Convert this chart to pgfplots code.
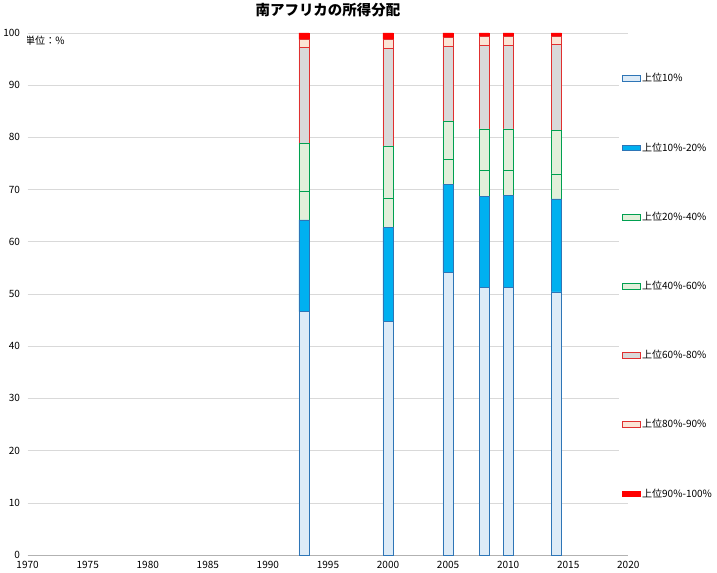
\documentclass[border=0pt]{standalone}
\usepackage{pgfplots}
\pgfplotsset{compat=1.18}
\usepackage{fontspec}
\setmainfont{Noto Sans CJK JP}
\definecolor{b1}{HTML}{DDEBF7}
\definecolor{b2}{HTML}{00B0F0}
\definecolor{be}{HTML}{2E75B6}
\definecolor{g1}{HTML}{E2EFDA}
\definecolor{ge}{HTML}{00A050}
\definecolor{r1}{HTML}{D9D9D9}
\definecolor{r2}{HTML}{FBE5D6}
\definecolor{re}{HTML}{E03030}
\begin{document}
\begin{tikzpicture}
\begin{axis}[
  scale only axis, width=598pt, height=520pt,
  ybar stacked, bar width=0.85,
  xmin=1970, xmax=2020, ymin=0, ymax=100,
  xtick={1970,1975,...,2020}, ytick={0,10,...,100},
  xticklabel style={/pgf/number format/1000 sep={}, yshift=-3pt},
  yticklabel style={xshift=-4pt},
  /pgf/number format/assume math mode=true,
  tick label style={font=\normalsize},
  major tick length=0pt,
  ymajorgrids, grid style={gray!30},
  axis x line=bottom, axis y line=left,
  y axis line style={draw=none}, x axis line style={-, gray!60},
  title={\bfseries 南アフリカの所得分配}, title style={font=\Large, yshift=6pt},
  legend style={at={(0.985,0.93)}, anchor=north west, draw=none, font=\normalsize, row sep=55pt},
  legend cell align=left, area legend,
]
\addplot[fill=b1, draw=be] coordinates {(1993,46.6)(2000,44.8)(2005,54.1)(2008,51.3)(2010,51.3)(2014,50.4)};
\addplot[fill=b2, draw=be] coordinates {(1993,17.6)(2000,17.9)(2005,16.9)(2008,17.4)(2010,17.6)(2014,17.8)};
\addplot[fill=g1, draw=ge] coordinates {(1993,5.5)(2000,5.7)(2005,4.7)(2008,4.9)(2010,4.7)(2014,4.8)};
\addplot[fill=g1, draw=ge] coordinates {(1993,9.1)(2000,9.9)(2005,7.4)(2008,8.0)(2010,8.0)(2014,8.3)};
\addplot[fill=r1, draw=re] coordinates {(1993,18.4)(2000,18.7)(2005,14.3)(2008,16.0)(2010,16.0)(2014,16.5)};
\addplot[fill=r2, draw=re] coordinates {(1993,1.5)(2000,1.7)(2005,1.7)(2008,1.7)(2010,1.7)(2014,1.5)};
\addplot[fill=red, draw=red] coordinates {(1993,1.3)(2000,1.3)(2005,0.9)(2008,0.7)(2010,0.7)(2014,0.7)};
\legend{上位10\%,上位10\%-20\%,上位20\%-40\%,上位40\%-60\%,上位60\%-80\%,上位80\%-90\%,上位90\%-100\%}
\node[anchor=north west, font=\normalsize] at (axis cs:1969.5,100) {単位：\%};
\end{axis}
\end{tikzpicture}
\end{document}
